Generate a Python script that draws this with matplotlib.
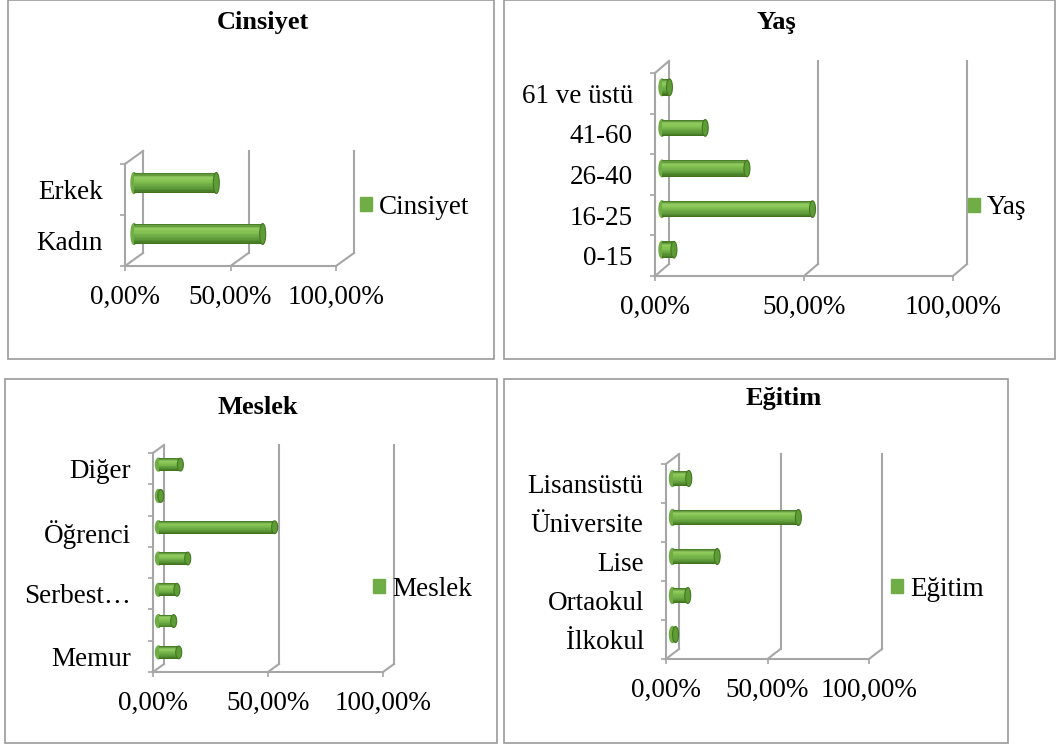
import matplotlib
matplotlib.use("Agg")
import matplotlib.pyplot as plt
from matplotlib.patches import Rectangle, Ellipse, Patch
from matplotlib.colors import LinearSegmentedColormap
import numpy as np

plt.rcParams['font.family'] = ['Liberation Serif', 'DejaVu Serif']

W, H = 1059, 747

# categories are listed bottom to top, values in percent
cinsiyet_cats = ["Kadın", "Erkek"]
cinsiyet_vals = [61.0, 39.0]

yas_cats = ["0-15", "16-25", "26-40", "41-60", "61 ve üstü"]
yas_vals = [4.0, 50.5, 28.5, 14.5, 2.5]

meslek_cats = ["Memur", "İşçi", "Serbest…", "Emekli", "Öğrenci", "Ev Hanımı", "Diğer"]
meslek_vals = [8.8, 6.6, 8.0, 12.7, 50.5, 1.0, 9.5]
meslek_shown = [0, 2, 4, 6]

egitim_cats = ["İlkokul", "Ortaokul", "Lise", "Üniversite", "Lisansüstü"]
egitim_vals = [1.5, 7.5, 22.0, 62.0, 8.0]

x_ticks = [0, 50, 100]
x_labels = ["0,00%", "50,00%", "100,00%"]

GRID = "#a6a6a6"
FS = 19.5
bar_cmap = LinearSegmentedColormap.from_list(
    "cyl", ["#4a8029", "#93cc62", "#82c150", "#70ad47", "#5a9636", "#41731f"])


def fx(x):
    return x / W


def fy(y):
    return 1 - y / H


def panel_box(x0, y0, x1, y1):
    fig.add_artist(Rectangle((fx(x0), fy(y1)), fx(x1 - x0), (y1 - y0) / H,
                             transform=fig.transFigure, fill=False,
                             edgecolor="#9a9a9a", lw=1.2))


def draw_bar(ax, y, val, left, h, capw):
    """cylinder-like bar made of thin horizontal strips"""
    n = 14
    edges = np.linspace(y + h / 2, y - h / 2, n + 1)
    ax.add_patch(Ellipse((left, y), 2 * capw, h, color="#70ad47",
                         clip_on=False, zorder=3))
    for k in range(n):
        ax.barh((edges[k] + edges[k + 1]) / 2, val, height=h / n, left=left,
                color=bar_cmap(k / (n - 1)), linewidth=0, zorder=4,
                clip_on=False)
    ax.add_patch(Ellipse((left + val, y), 2 * capw, h, facecolor="#5e9c38",
                         edgecolor="#44781f", lw=0.8, clip_on=False, zorder=5))


def plot_panel(cats, vals, front, depth, shown=None):
    x0, x100, ytop, ybot = front
    dx, dy = depth
    n = len(cats)
    ax = fig.add_axes([fx(x0), fy(ybot), fx(x100 - x0), (ybot - ytop) / H])
    ax.set_xlim(0, 100)
    ax.set_ylim(-0.5, n - 0.5)
    ax.patch.set_alpha(0)
    sx = 100 / (x100 - x0)
    sy = n / (ybot - ytop)
    ddx, ddy = dx * sx, dy * sy

    # back wall and floor edges
    for xv in x_ticks:
        ax.plot([xv + ddx] * 2, [-0.5 + ddy, n - 0.5 + ddy], color=GRID,
                lw=1.5, clip_on=False, zorder=1)
        ax.plot([xv, xv + ddx], [-0.5, -0.5 + ddy], color=GRID, lw=1.5,
                clip_on=False, zorder=1)
    ax.plot([0, ddx], [n - 0.5, n - 0.5 + ddy], color=GRID, lw=1.5,
            clip_on=False, zorder=1)

    for i, v in enumerate(vals):
        draw_bar(ax, i + ddy / 2, v, ddx / 2, 0.41, 3 * sx)

    for side in ["top", "right"]:
        ax.spines[side].set_visible(False)
    for side in ["left", "bottom"]:
        ax.spines[side].set_color(GRID)
        ax.spines[side].set_linewidth(1.5)

    idx = shown if shown is not None else range(n)
    ax.set_yticks(list(idx))
    ax.set_yticklabels([cats[i] for i in idx])
    ax.set_yticks(np.arange(n + 1) - 0.5, minor=True)
    ax.tick_params(axis="y", which="major", length=0, pad=16, labelsize=FS)
    ax.tick_params(axis="y", which="minor", length=3.6, width=1.2, color=GRID)
    ax.set_xticks(x_ticks)
    ax.set_xticklabels(x_labels)
    ax.tick_params(axis="x", length=3.6, width=1.2, color=GRID, pad=10,
                   labelsize=FS)
    return ax


def legend_at(name, x, y):
    fig.legend(handles=[Patch(color="#70ad47", label=name)],
               loc="center left", bbox_to_anchor=(fx(x), fy(y)),
               frameon=False, fontsize=FS, handlelength=0.45,
               handleheight=0.45, handletextpad=0.25, borderpad=0,
               borderaxespad=0)


fig = plt.figure(figsize=(W / 100, H / 100), dpi=100)

panel_box(8, 0, 494, 359)
panel_box(504, 0, 1055, 359)
panel_box(5, 379, 497, 743)
panel_box(504, 379, 1008, 743)

plot_panel(cinsiyet_cats, cinsiyet_vals, (125, 336, 164, 266), (18, 13))
plot_panel(yas_cats, yas_vals, (655, 953, 73, 276), (14, 12))
plot_panel(meslek_cats, meslek_vals, (153, 383, 453, 672), (11, 8), meslek_shown)
plot_panel(egitim_cats, egitim_vals, (666, 869, 464, 659), (13, 10))

titles = [("Cinsiyet", 263, 22), ("Yaş", 776, 22),
          ("Meslek", 258, 408), ("Eğitim", 784, 398)]
for t, x, y in titles:
    fig.text(fx(x), fy(y), t, ha="center", va="center", fontsize=19,
             fontweight="bold")

legend_at("Cinsiyet", 360, 207)
legend_at("Yaş", 968, 208)
legend_at("Meslek", 373, 589)
legend_at("Eğitim", 891, 589)

fig.savefig("out.png", dpi=100)
